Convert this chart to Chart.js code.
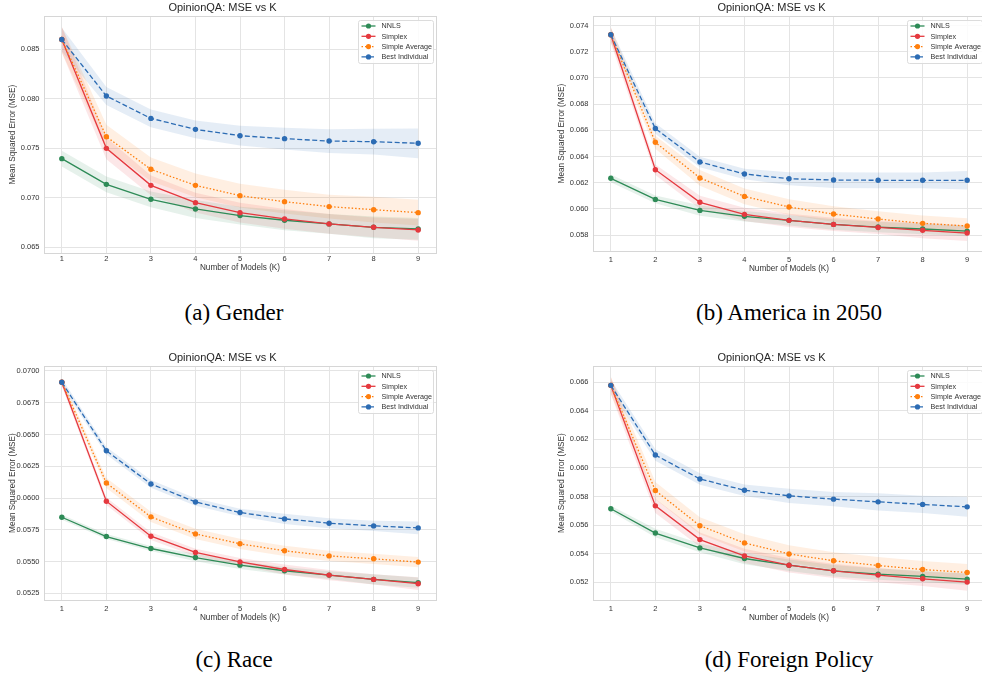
<!DOCTYPE html>
<html>
<head>
<meta charset="utf-8">
<script src="https://cdn.jsdelivr.net/npm/chart.js@4.4.1/dist/chart.umd.min.js"></script>
<style>
  html, body { margin: 0; padding: 0; overflow: hidden; background: #fff; }
  body { position: relative; width: 982px; height: 677px; }
  canvas { position: absolute; }
  .cap { position: absolute; font-family: "Liberation Serif", serif; font-size: 23px; line-height: 1; color: #000; transform: translateX(-50%); white-space: nowrap; }
</style>
</head>
<body>
<canvas id="chartA" width="440" height="273" style="left:0px;top:0px"></canvas>
<canvas id="chartB" width="440" height="274" style="left:549px;top:0px"></canvas>
<canvas id="chartC" width="440" height="273" style="left:0px;top:350px"></canvas>
<canvas id="chartD" width="440" height="273" style="left:549px;top:350px"></canvas>
<div class="cap" style="left:234px;top:301px">(a) Gender</div>
<div class="cap" style="left:789px;top:301px">(b) America in 2050</div>
<div class="cap" style="left:234px;top:648px">(c) Race</div>
<div class="cap" style="left:789px;top:648px">(d) Foreign Policy</div>
<script>
const kValues = [1, 2, 3, 4, 5, 6, 7, 8, 9];
const seriesNames = ["NNLS", "Simplex", "Simple Average", "Best Individual"];
const seriesColors = ["#2e8b57", "#e5393f", "#ff7f0e", "#2c6cb4"];
const seriesDash = [[], [], [1.5, 2], [5, 2.5]];

// (a) Gender
const genderNnls = [0.07396, 0.07136, 0.06985, 0.06887, 0.06820, 0.06773, 0.06736, 0.06702, 0.06685];
const genderSimplex = [0.08600, 0.07500, 0.07126, 0.06951, 0.06850, 0.06786, 0.06736, 0.06702, 0.06675];
const genderAverage = [0.08600, 0.07618, 0.07288, 0.07126, 0.07022, 0.06961, 0.06911, 0.06880, 0.06850];
const genderBest = [0.08600, 0.08029, 0.07803, 0.07692, 0.07628, 0.07598, 0.07574, 0.07567, 0.07551];
const genderNnlsErr = [0.0008, 0.0008, 0.0008, 0.0009, 0.0009, 0.0010, 0.0010, 0.0011, 0.0011];
const genderSimplexErr = [0.0013, 0.0011, 0.0010, 0.0010, 0.0010, 0.0010, 0.0010, 0.0010, 0.0011];
const genderAverageErr = [0.0013, 0.0012, 0.0012, 0.0012, 0.0012, 0.0012, 0.0012, 0.0013, 0.0013];
const genderBestErr = [0.0012, 0.0009, 0.0009, 0.0009, 0.0010, 0.0011, 0.0012, 0.0013, 0.0015];
const genderTicks = [0.065, 0.070, 0.075, 0.080, 0.085];

// (b) America in 2050
const americaNnls = [0.06233, 0.06072, 0.05988, 0.05943, 0.05912, 0.05881, 0.05861, 0.05846, 0.05830];
const americaSimplex = [0.07329, 0.06299, 0.06050, 0.05958, 0.05912, 0.05881, 0.05858, 0.05836, 0.05815];
const americaAverage = [0.07329, 0.06508, 0.06236, 0.06095, 0.06014, 0.05960, 0.05922, 0.05889, 0.05869];
const americaBest = [0.07329, 0.06613, 0.06358, 0.06266, 0.06230, 0.06220, 0.06218, 0.06218, 0.06218];
const americaNnlsErr = [0.0003, 0.0003, 0.0004, 0.0004, 0.0004, 0.0004, 0.0004, 0.0004, 0.0004];
const americaSimplexErr = [0.0006, 0.0004, 0.0005, 0.0005, 0.0005, 0.0005, 0.0005, 0.0006, 0.0006];
const americaAverageErr = [0.0006, 0.0005, 0.0006, 0.0006, 0.0006, 0.0006, 0.0006, 0.0006, 0.0006];
const americaBestErr = [0.0005, 0.0004, 0.0004, 0.0004, 0.0005, 0.0006, 0.0006, 0.0006, 0.0007];
const americaTicks = [0.058, 0.060, 0.062, 0.064, 0.066, 0.068, 0.070, 0.072, 0.074];

// (c) Race
const raceNnls = [0.05849, 0.05697, 0.05603, 0.05532, 0.05472, 0.05428, 0.05394, 0.05360, 0.05334];
const raceSimplex = [0.06911, 0.05975, 0.05700, 0.05572, 0.05498, 0.05438, 0.05394, 0.05360, 0.05326];
const raceAverage = [0.06911, 0.06118, 0.05852, 0.05718, 0.05640, 0.05585, 0.05545, 0.05522, 0.05496];
const raceBest = [0.06911, 0.06372, 0.06111, 0.05969, 0.05886, 0.05836, 0.05802, 0.05781, 0.05765];
const raceNnlsErr = [0.0002, 0.0002, 0.0002, 0.0003, 0.0003, 0.0003, 0.0003, 0.0004, 0.0004];
const raceSimplexErr = [0.0003, 0.0003, 0.0003, 0.0003, 0.0003, 0.0004, 0.0004, 0.0004, 0.0005];
const raceAverageErr = [0.0003, 0.0004, 0.0004, 0.0004, 0.0004, 0.0004, 0.0004, 0.0004, 0.0004];
const raceBestErr = [0.0003, 0.0003, 0.0003, 0.0003, 0.0003, 0.0004, 0.0004, 0.0004, 0.0005];
const raceTicks = [0.0525, 0.0550, 0.0575, 0.0600, 0.0625, 0.0650, 0.0675, 0.0700];

// (d) Foreign Policy
const foreignNnls = [0.05715, 0.05545, 0.05441, 0.05367, 0.05320, 0.05281, 0.05258, 0.05242, 0.05223];
const foreignSimplex = [0.06577, 0.05735, 0.05499, 0.05385, 0.05320, 0.05281, 0.05251, 0.05225, 0.05202];
const foreignAverage = [0.06577, 0.05842, 0.05596, 0.05476, 0.05399, 0.05351, 0.05318, 0.05290, 0.05269];
const foreignBest = [0.06577, 0.06090, 0.05923, 0.05844, 0.05805, 0.05782, 0.05763, 0.05745, 0.05728];
const foreignNnlsErr = [0.0002, 0.0003, 0.0003, 0.0004, 0.0004, 0.0004, 0.0004, 0.0004, 0.0004];
const foreignSimplexErr = [0.0006, 0.0005, 0.0005, 0.0005, 0.0005, 0.0005, 0.0005, 0.0005, 0.0006];
const foreignAverageErr = [0.0006, 0.0006, 0.0006, 0.0006, 0.0006, 0.0006, 0.0006, 0.0006, 0.0006];
const foreignBestErr = [0.0004, 0.0004, 0.0004, 0.0004, 0.0005, 0.0005, 0.0006, 0.0006, 0.0007];
const foreignTicks = [0.052, 0.054, 0.056, 0.058, 0.060, 0.062, 0.064, 0.066];

const FONT = "'Liberation Sans', Arial, sans-serif";
const GRID = "#e4e4e4";
const TEXT = "#333333";

function rgba(hex, a) {
  const n = parseInt(hex.slice(1), 16);
  return `rgba(${n >> 16},${(n >> 8) & 255},${n & 255},${a})`;
}

// frame around the plot area, like the seaborn axes
const frame = {
  id: "frame",
  beforeDatasetsDraw(chart) {
    const { ctx, chartArea: a } = chart;
    ctx.save();
    ctx.strokeStyle = "#d6d6d6";
    ctx.lineWidth = 1;
    ctx.strokeRect(Math.round(a.left) + 0.5, Math.round(a.top) + 0.5, Math.round(a.right - a.left), Math.round(a.bottom - a.top));
    ctx.restore();
  }
};

// legend box inside the top right corner
const boxLegend = {
  id: "boxLegend",
  afterDraw(chart) {
    const { ctx, chartArea: a } = chart;
    const w = 75, h = 43;
    const x = Math.round(a.right - 3 - w) + 0.5, y = Math.round(a.top + 4) + 0.5;
    ctx.save();
    ctx.fillStyle = "rgba(255,255,255,0.85)";
    ctx.strokeStyle = "#dcdcdc";
    ctx.lineWidth = 1;
    ctx.beginPath();
    ctx.roundRect(x, y, w, h, 2);
    ctx.fill();
    ctx.stroke();
    const lines = chart.data.datasets.filter(d => d.isMain);
    lines.forEach((d, i) => {
      const cy = y + 5.5 + i * 10.3;
      ctx.strokeStyle = d.borderColor;
      ctx.lineWidth = 1.3;
      ctx.setLineDash(d.borderDash);
      ctx.beginPath();
      ctx.moveTo(x + 3, cy);
      ctx.lineTo(x + 17, cy);
      ctx.stroke();
      ctx.setLineDash([]);
      ctx.fillStyle = d.borderColor;
      ctx.beginPath();
      ctx.arc(x + 10, cy, 2.6, 0, Math.PI * 2);
      ctx.fill();
      ctx.fillStyle = TEXT;
      ctx.font = `7.2px ${FONT}`;
      ctx.textBaseline = "middle";
      ctx.fillText(d.label, x + 23, cy + 0.5);
    });
    ctx.restore();
  }
};

function makeChart(id, panel) {
  const datasets = [];
  panel.series.forEach((vals, i) => {
    datasets.push({
      label: seriesNames[i],
      isMain: true,
      data: kValues.map((k, j) => ({ x: k, y: vals[j] })),
      borderColor: seriesColors[i],
      backgroundColor: seriesColors[i],
      borderWidth: 1.3,
      borderDash: seriesDash[i],
      pointRadius: 2.7,
      pointBorderWidth: 0,
      pointBackgroundColor: seriesColors[i],
      fill: false,
      order: 4 - i
    });
  });
  // confidence bands: upper edge filled down to lower edge
  panel.series.forEach((vals, i) => {
    const err = panel.errors[i];
    const upperIndex = datasets.length;
    datasets.push({
      label: seriesNames[i] + " upper",
      data: kValues.map((k, j) => ({ x: k, y: vals[j] + err[j] })),
      borderWidth: 0,
      pointRadius: 0,
      backgroundColor: rgba(seriesColors[i], 0.12),
      fill: upperIndex + 1,
      order: 10
    });
    datasets.push({
      label: seriesNames[i] + " lower",
      data: kValues.map((k, j) => ({ x: k, y: vals[j] - err[j] })),
      borderWidth: 0,
      pointRadius: 0,
      fill: false,
      order: 10
    });
  });

  return new Chart(document.getElementById(id), {
    type: "line",
    data: { datasets },
    options: {
      responsive: false,
      animation: false,
      layout: { padding: { left: 8, right: 3, top: 0, bottom: 0 } },
      plugins: {
        legend: { display: false },
        tooltip: { enabled: false },
        title: {
          display: true,
          text: "OpinionQA: MSE vs K",
          color: "#262626",
          font: { family: FONT, size: 11, weight: "normal" },
          padding: { top: 1, bottom: 2 }
        }
      },
      scales: {
        x: {
          type: "linear",
          min: 0.6,
          max: 9.4,
          afterBuildTicks: s => { s.ticks = kValues.map(v => ({ value: v })); },
          afterFit: s => { s.height = panel.xHeight; },
          ticks: { color: TEXT, padding: panel.xPad, font: { family: FONT, size: 7.5 }, callback: v => String(v) },
          grid: { color: GRID, drawTicks: false },
          border: { display: false },
          title: { display: true, text: "Number of Models (K)", color: TEXT, font: { family: FONT, size: 8.2 }, padding: 0 }
        },
        y: {
          min: panel.yMin,
          max: panel.yMax,
          afterBuildTicks: s => { s.ticks = panel.ticks.map(v => ({ value: v })); },
          afterFit: s => { s.width = 36; },
          ticks: { color: TEXT, padding: 4.5, font: { family: FONT, size: 7.5 }, callback: v => Number(v).toFixed(panel.decimals) },
          grid: { color: GRID, drawTicks: false },
          border: { display: false },
          title: { display: true, text: "Mean Squared Error (MSE)", color: TEXT, font: { family: FONT, size: 8.2 }, padding: 0 }
        }
      }
    },
    plugins: [frame, boxLegend]
  });
}

makeChart("chartA", {
  series: [genderNnls, genderSimplex, genderAverage, genderBest],
  errors: [genderNnlsErr, genderSimplexErr, genderAverageErr, genderBestErr],
  ticks: genderTicks, decimals: 3, yMin: 0.06442, yMax: 0.08836, xHeight: 20, xPad: 1.5
});
makeChart("chartB", {
  series: [americaNnls, americaSimplex, americaAverage, americaBest],
  errors: [americaNnlsErr, americaSimplexErr, americaAverageErr, americaBestErr],
  ticks: americaTicks, decimals: 3, yMin: 0.05678, yMax: 0.07471, xHeight: 23, xPad: 4
});
makeChart("chartC", {
  series: [raceNnls, raceSimplex, raceAverage, raceBest],
  errors: [raceNnlsErr, raceSimplexErr, raceAverageErr, raceBestErr],
  ticks: raceTicks, decimals: 4, yMin: 0.05198, yMax: 0.07037, xHeight: 23, xPad: 4
});
makeChart("chartD", {
  series: [foreignNnls, foreignSimplex, foreignAverage, foreignBest],
  errors: [foreignNnlsErr, foreignSimplexErr, foreignAverageErr, foreignBestErr],
  ticks: foreignTicks, decimals: 3, yMin: 0.05077, yMax: 0.06711, xHeight: 23, xPad: 4
});
</script>
</body>
</html>
